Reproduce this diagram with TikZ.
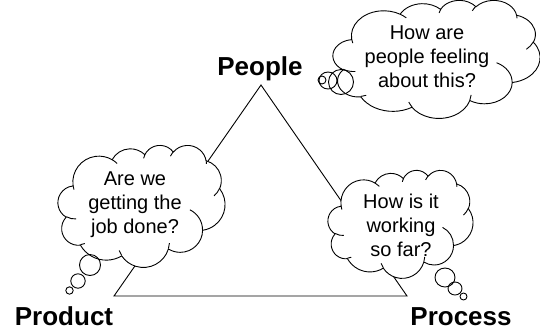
\documentclass[tikz,border=0pt]{standalone}
\usepackage{fontspec}
\setmainfont{Liberation Sans}

% Cloud outline after the DrawingML "cloud" preset (43.2 x 43.2 box, y down).
% Arc angles there are visible angles; turn them into parametric ones.
\newcommand\cldarc[5]{%
  \pgfmathsetmacro\cldts{atan2((#2)*sin(#4),(#3)*cos(#4))}%
  \pgfmathsetmacro\cldte{atan2((#2)*sin((#4)+(#5)),(#3)*cos((#4)+(#5)))}%
  \pgfmathsetmacro\cldtd{mod((\cldte)-(\cldts)+720,360)}%
  \edef\cldtmp{\noexpand\tikzset{#1/.style={start angle=\cldts,delta angle=\cldtd,x radius=#2,y radius=#3}}}%
  \cldtmp}
% outer bumps
\cldarc{co1}{6.753}{9.190}{-190.48748}{123.78053}
\cldarc{co2}{5.333}{7.267}{-144.10238}{89.94523}
\cldarc{co3}{4.365}{5.945}{-145.80792}{99.72302}
\cldarc{co4}{4.857}{6.595}{-130.98607}{117.24173}
\cldarc{co5}{5.333}{7.273}{-78.70888}{109.02692}
\cldarc{co6}{6.775}{9.220}{-46.26725}{130.26900}
\cldarc{co7}{5.785}{7.867}{0.62502}{114.03333}
\cldarc{co8}{6.752}{9.215}{22.45160}{115.17255}
\cldarc{co9}{7.720}{10.543}{66.24263}{75.71102}
\cldarc{co10}{4.360}{5.918}{-274.94208}{146.73557}
\cldarc{co11}{4.345}{5.945}{-246.82850}{152.51885}
% inner hooks
\cldarc{ci1}{4.345}{5.945}{86.74200}{26.42950}
\cldarc{ci2}{4.360}{5.918}{73.61047}{11.44747}
\cldarc{ci3}{6.752}{9.215}{137.62415}{14.08110}
\cldarc{ci4}{6.752}{9.215}{6.45327}{15.99835}
\cldarc{ci5}{5.785}{7.867}{-70.29235}{70.91737}
\cldarc{ci6}{5.333}{7.273}{30.31803}{27.75150}
\cldarc{ci7}{4.857}{6.595}{-13.74433}{14.85890}
\cldarc{ci8}{4.857}{6.595}{-149.18145}{18.19537}
\cldarc{ci9}{4.365}{5.945}{-163.49427}{17.68635}
\cldarc{ci10}{6.753}{9.190}{-66.70695}{12.31935}
\cldarc{ci11}{6.753}{9.190}{157.65435}{11.85817}

\tikzset{
  edge/.style={draw=black,line width=0.9pt,line join=miter},
  cloudline/.style={draw=black,line width=0.9pt},
  cloudtext/.style={align=center,inner sep=0pt,font=\fontsize{20}{24}\selectfont},
  vertexlabel/.style={inner sep=0pt,font=\fontsize{26}{31}\selectfont\bfseries},
}

% #1,#2: top left corner, #3,#4: width and height (all in px)
\newcommand\thoughtcloud[4]{%
  \pgfmathsetmacro\cldsx{(#3)/43.2}%
  \pgfmathsetmacro\cldsy{(#4)/43.2}%
  \begin{scope}[shift={(#1pt,-#2pt)},x=\cldsx pt,y=-\cldsy pt]
    \filldraw[cloudline,fill=white] (3.9,14.37) arc[co1] arc[co2] arc[co3]
      arc[co4] arc[co5] arc[co6] arc[co7] arc[co8] arc[co9] arc[co10]
      arc[co11] -- cycle;
    \draw[cloudline] (4.693,26.177) arc[ci1] (6.928,34.899) arc[ci2]
      (16.478,39.09) arc[ci3] (28.827,34.751) arc[ci4]
      (34.129,22.954) arc[ci5] (41.798,15.354) arc[ci6]
      (38.324,5.426) arc[ci7] (29.078,3.952) arc[ci8]
      (22.141,4.72) arc[ci9] (14.0,5.192) arc[ci10]
      (4.127,15.789) arc[ci11];
  \end{scope}}

\begin{document}
\begin{tikzpicture}[x=1pt,y=-1pt]
  \useasboundingbox[fill=white] (0,0) rectangle (540,333);

  % the triangle
  \coordinate (apex) at (261,85);
  \coordinate (left) at (114,296);
  \coordinate (right) at (407,296);
  \draw[edge] (apex) -- (left) -- (right) -- cycle;

  % corner labels
  \node[vertexlabel,anchor=base] (people) at (260,75) {People};
  \node[vertexlabel,anchor=base] (product) at (64,325) {Product};
  \node[vertexlabel,anchor=base] (process) at (461,325) {Process};

  % thought clouds
  \thoughtcloud{333}{0}{207}{118}
  \thoughtcloud{58}{145}{167}{122}
  \thoughtcloud{328}{170}{145}{108}

  \node[cloudtext] (qpeople) at (427,57) {How are\\people feeling\\about this?};
  \node[cloudtext] (qproduct) at (135,205) {Are we\\getting the\\job done?};
  \node[cloudtext] (qprocess) at (401,225) {How is it\\working\\so far?};

  % thought bubbles
  \draw[cloudline] (322,80) circle[radius=4];
  \draw[cloudline] (328,80.5) ellipse[x radius=9,y radius=8.5];
  \draw[cloudline] (341,82) circle[radius=12.5];

  \draw[cloudline] (90,265) circle[radius=10.5];
  \draw[cloudline] (78,281) circle[radius=7.2];
  \draw[cloudline] (69.5,290.5) circle[radius=3.7];

  \draw[cloudline] (445,277.5) ellipse[x radius=10,y radius=9.5];
  \draw[cloudline] (455,288.5) ellipse[x radius=7,y radius=6.5];
  \draw[cloudline] (463.5,296.5) circle[radius=3.5];
\end{tikzpicture}
\end{document}
